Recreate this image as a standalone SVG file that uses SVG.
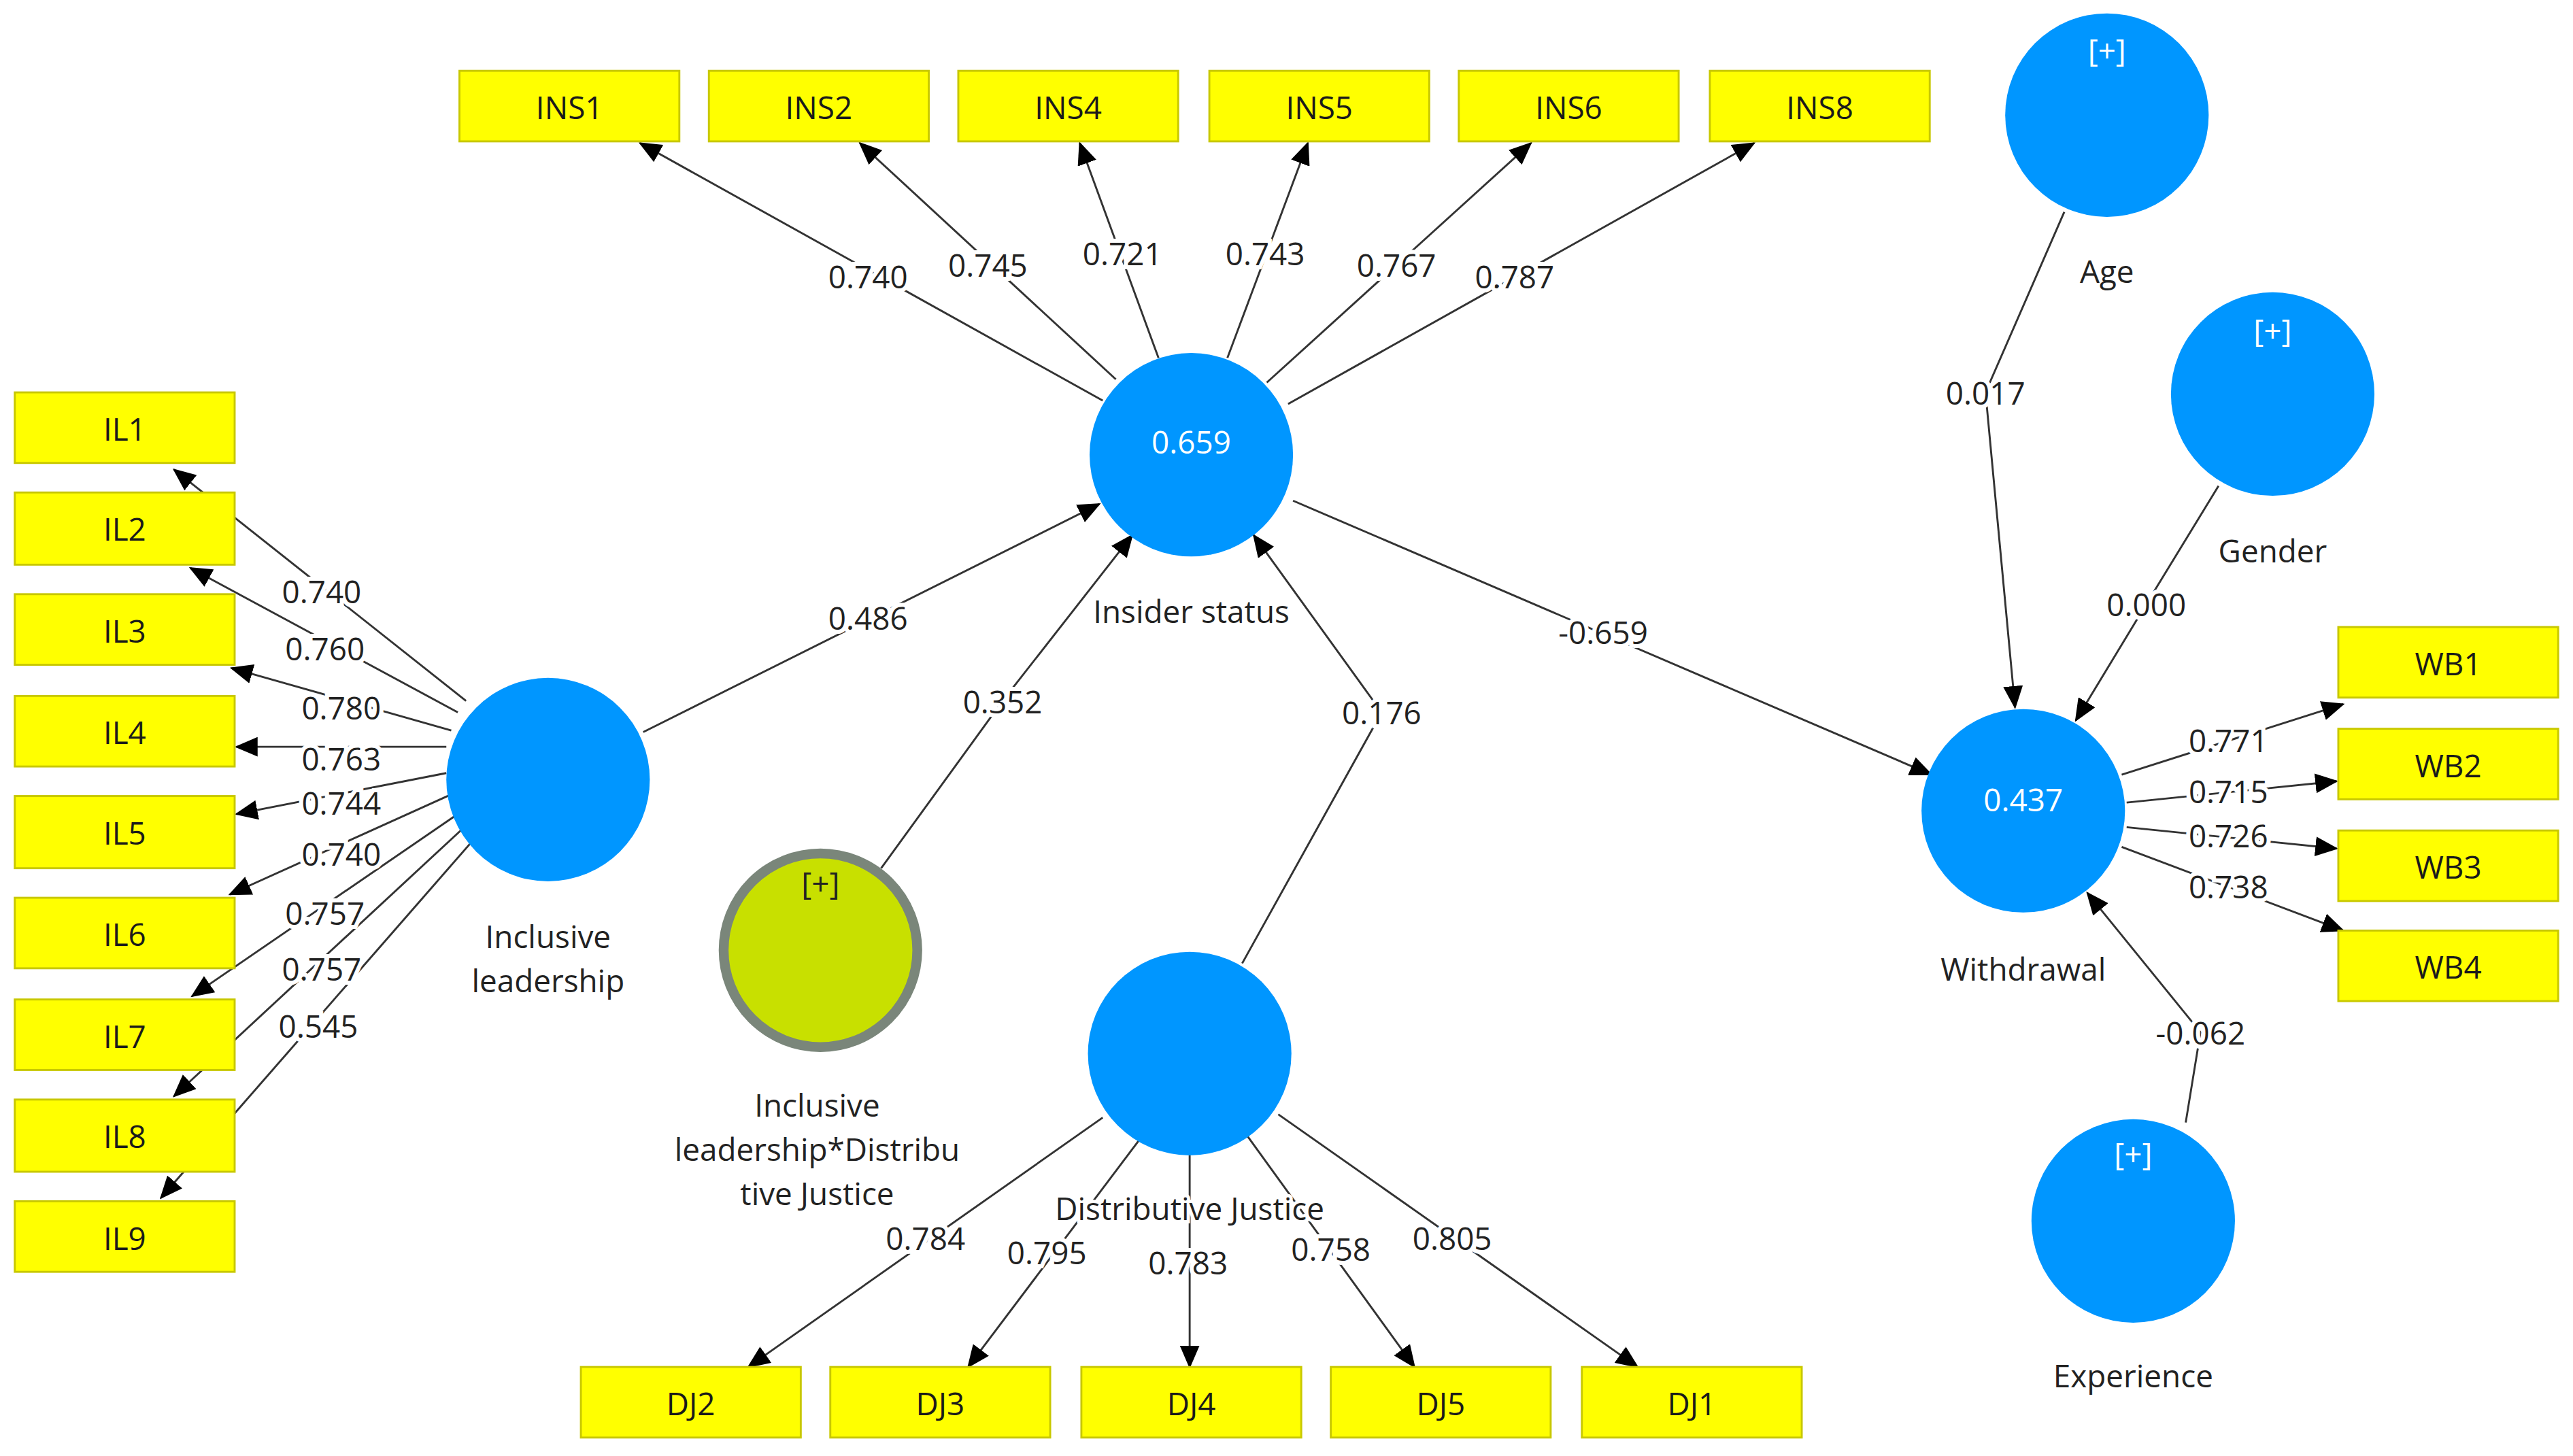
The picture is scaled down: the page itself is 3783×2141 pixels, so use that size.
<svg xmlns="http://www.w3.org/2000/svg" width="3783" height="2141" viewBox="0 0 3783 2141">
<style>
.box{fill:#ffff00;stroke:#c8c800;stroke-width:1.2}
.bt{font-family:"Open Sans","Noto Sans",sans-serif;font-size:19px;fill:#1a1a1a;text-anchor:middle;dominant-baseline:central}
.lv{fill:#0096ff}
.nl{font-family:"Open Sans","Noto Sans",sans-serif;font-size:19px;fill:#222;text-anchor:middle;dominant-baseline:central}
.wt{font-family:"Open Sans","Noto Sans",sans-serif;font-size:19px;fill:#ffffff;text-anchor:middle;dominant-baseline:central}
.e{fill:none;stroke:#333;stroke-width:1.2;marker-end:url(#ah)}
.el{font-family:"Open Sans","Noto Sans",sans-serif;font-size:19px;fill:#222;text-anchor:middle;dominant-baseline:central;stroke:#fff;stroke-width:5;paint-order:stroke}
</style>
<defs>
<marker id="ah" markerUnits="userSpaceOnUse" markerWidth="14" markerHeight="12" refX="13" refY="6" orient="auto"><path d="M0,0 L14,6 L0,12 Z" fill="#000"/></marker>
</defs>
<rect width="3783" height="2141" fill="#fff"/>
<g transform="translate(0 -2) scale(2.4126 2.4126)">
<g id="connectors">
<path class="e" d="M672,245 L390,88"/><path class="e" d="M680,232 L524,88"/><path class="e" d="M706,219 L658,88"/><path class="e" d="M748,219 L797,88"/><path class="e" d="M772,234 L933,88"/><path class="e" d="M785,247 L1069,88"/>
<path class="e" d="M284,428 L106,287"/><path class="e" d="M279,435 L116,347"/><path class="e" d="M275,446 L141,408"/><path class="e" d="M272,456 L144,456"/><path class="e" d="M272,472 L144,497"/><path class="e" d="M275,485 L140,546"/><path class="e" d="M279,497 L117,608"/><path class="e" d="M284,504 L106,669"/><path class="e" d="M290,511 L98,731"/>
<path class="e" d="M392,447 L670,308"/><path class="e" d="M537,530 L611,428 L690,327"/><path class="e" d="M757,588 L842,435 L764,327"/>
<path class="e" d="M788,306 L1177,473"/>
<path class="e" d="M1258,130 L1210,240 L1228,432"/><path class="e" d="M1352,297 L1308,369 L1265,440"/><path class="e" d="M1332,685 L1341,630 L1272,545"/>
<path class="e" d="M1293,473 L1428,430"/><path class="e" d="M1296,490 L1424,477"/><path class="e" d="M1296,505 L1424,518"/><path class="e" d="M1293,517 L1428,568"/>
<path class="e" d="M672,682 L456,834"/><path class="e" d="M694,696 L590,834"/><path class="e" d="M725,705 L725,834"/><path class="e" d="M760,693 L862,834"/><path class="e" d="M779,680 L998,834"/>
<text class="el" x="529" y="169">0.740</text><text class="el" x="602" y="162">0.745</text><text class="el" x="684" y="155">0.721</text><text class="el" x="771" y="155">0.743</text><text class="el" x="851" y="162">0.767</text><text class="el" x="923" y="169">0.787</text>
<text class="el" x="196" y="361">0.740</text><text class="el" x="198" y="396">0.760</text><text class="el" x="208" y="432">0.780</text><text class="el" x="208" y="463">0.763</text><text class="el" x="208" y="490">0.744</text><text class="el" x="208" y="521">0.740</text><text class="el" x="198" y="557">0.757</text><text class="el" x="196" y="591">0.757</text><text class="el" x="194" y="626">0.545</text>
<text class="el" x="529" y="377">0.486</text><text class="el" x="611" y="428">0.352</text><text class="el" x="842" y="435">0.176</text><text class="el" x="977" y="386">-0.659</text>
<text class="el" x="1210" y="240">0.017</text><text class="el" x="1308" y="369">0.000</text><text class="el" x="1341" y="630">-0.062</text>
<text class="el" x="1358" y="452">0.771</text><text class="el" x="1358" y="483">0.715</text><text class="el" x="1358" y="510">0.726</text><text class="el" x="1358" y="541">0.738</text>
<text class="el" x="564" y="755">0.784</text><text class="el" x="638" y="764">0.795</text><text class="el" x="724" y="770">0.783</text><text class="el" x="811" y="762">0.758</text><text class="el" x="885" y="755">0.805</text>
</g>
<g id="INS1"><rect class="box" x="280" y="44" width="134" height="43"/><text class="bt" x="347" y="66">INS1</text></g>
<g id="INS2"><rect class="box" x="432" y="44" width="134" height="43"/><text class="bt" x="499" y="66">INS2</text></g>
<g id="INS4"><rect class="box" x="584" y="44" width="134" height="43"/><text class="bt" x="651" y="66">INS4</text></g>
<g id="INS5"><rect class="box" x="737" y="44" width="134" height="43"/><text class="bt" x="804" y="66">INS5</text></g>
<g id="INS6"><rect class="box" x="889" y="44" width="134" height="43"/><text class="bt" x="956" y="66">INS6</text></g>
<g id="INS8"><rect class="box" x="1042" y="44" width="134" height="43"/><text class="bt" x="1109" y="66">INS8</text></g>
<g id="IL1"><rect class="box" x="9" y="240" width="134" height="43"/><text class="bt" x="76" y="262">IL1</text></g>
<g id="IL2"><rect class="box" x="9" y="301" width="134" height="44"/><text class="bt" x="76" y="323">IL2</text></g>
<g id="IL3"><rect class="box" x="9" y="363" width="134" height="43"/><text class="bt" x="76" y="385">IL3</text></g>
<g id="IL4"><rect class="box" x="9" y="425" width="134" height="43"/><text class="bt" x="76" y="447">IL4</text></g>
<g id="IL5"><rect class="box" x="9" y="486" width="134" height="44"/><text class="bt" x="76" y="508">IL5</text></g>
<g id="IL6"><rect class="box" x="9" y="548" width="134" height="43"/><text class="bt" x="76" y="570">IL6</text></g>
<g id="IL7"><rect class="box" x="9" y="610" width="134" height="43"/><text class="bt" x="76" y="632">IL7</text></g>
<g id="IL8"><rect class="box" x="9" y="671" width="134" height="44"/><text class="bt" x="76" y="693">IL8</text></g>
<g id="IL9"><rect class="box" x="9" y="733" width="134" height="43"/><text class="bt" x="76" y="755">IL9</text></g>
<g id="WB1"><rect class="box" x="1425" y="383" width="134" height="43"/><text class="bt" x="1492" y="405">WB1</text></g>
<g id="WB2"><rect class="box" x="1425" y="445" width="134" height="43"/><text class="bt" x="1492" y="467">WB2</text></g>
<g id="WB3"><rect class="box" x="1425" y="507" width="134" height="43"/><text class="bt" x="1492" y="529">WB3</text></g>
<g id="WB4"><rect class="box" x="1425" y="568" width="134" height="43"/><text class="bt" x="1492" y="590">WB4</text></g>
<g id="DJ2"><rect class="box" x="354" y="834" width="134" height="43"/><text class="bt" x="421" y="856">DJ2</text></g>
<g id="DJ3"><rect class="box" x="506" y="834" width="134" height="43"/><text class="bt" x="573" y="856">DJ3</text></g>
<g id="DJ4"><rect class="box" x="659" y="834" width="134" height="43"/><text class="bt" x="726" y="856">DJ4</text></g>
<g id="DJ5"><rect class="box" x="811" y="834" width="134" height="43"/><text class="bt" x="878" y="856">DJ5</text></g>
<g id="DJ1"><rect class="box" x="964" y="834" width="134" height="43"/><text class="bt" x="1031" y="856">DJ1</text></g>
<g id="InsiderStatus"><circle class="lv" cx="726" cy="278" r="62"/><text class="wt" x="726" y="270">0.659</text><text class="nl" x="726" y="373">Insider status</text></g>
<g id="InclusiveLeadership"><circle class="lv" cx="334" cy="476" r="62"/><text class="nl" x="334" y="571">Inclusive</text><text class="nl" x="334" y="598">leadership</text></g>
<g id="Moderator"><circle cx="500" cy="580" r="59" fill="#c8e000" stroke="#7a867a" stroke-width="6"/><text class="nl" x="500" y="539">[+]</text><text class="nl" x="498" y="674">Inclusive</text><text class="nl" x="498" y="701">leadership*Distribu</text><text class="nl" x="498" y="728">tive Justice</text></g>
<g id="DistributiveJustice"><circle class="lv" cx="725" cy="643" r="62"/><text class="nl" x="725" y="737" stroke="#fff" stroke-width="4" paint-order="stroke">Distributive Justice</text></g>
<g id="Withdrawal"><circle class="lv" cx="1233" cy="495" r="62"/><text class="wt" x="1233" y="488">0.437</text><text class="nl" x="1233" y="591">Withdrawal</text></g>
<g id="Age"><circle class="lv" cx="1284" cy="71" r="62"/><text class="wt" x="1284" y="31">[+]</text><text class="nl" x="1284" y="166">Age</text></g>
<g id="Gender"><circle class="lv" cx="1385" cy="241" r="62"/><text class="wt" x="1385" y="202">[+]</text><text class="nl" x="1385" y="336">Gender</text></g>
<g id="Experience"><circle class="lv" cx="1300" cy="745" r="62"/><text class="wt" x="1300" y="704">[+]</text><text class="nl" x="1300" y="839">Experience</text></g>
</g>
</svg>
